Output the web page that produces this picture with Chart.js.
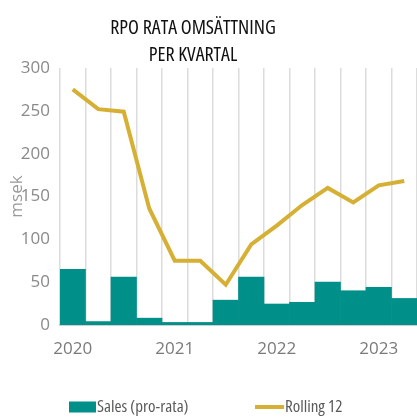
<!DOCTYPE html>
<html><head><meta charset="utf-8">
<script src="https://cdn.jsdelivr.net/npm/chart.js@4.4.1/dist/chart.umd.min.js"></script>
<style>html,body{margin:0;padding:0;background:#fff;overflow:hidden}</style>
</head><body>
<canvas id="c" width="417" height="417" style="display:block;width:417px;height:417px"></canvas>
<script>
const categories = ['2020 Q1','2020 Q2','2020 Q3','2020 Q4','2021 Q1','2021 Q2','2021 Q3','2021 Q4','2022 Q1','2022 Q2','2022 Q3','2022 Q4','2023 Q1','2023 Q2'];
const sales = [65, 4, 56, 8, 3, 3, 29, 56, 24.5, 26.5, 50, 40, 44, 31];
const rolling12 = [275, 252, 249, 136, 75, 75, 47, 94, 116, 140, 160, 143, 163, 168];
const yTicks = [0, 50, 100, 150, 200, 250, 300];
const titleLines = ['RPO RATA OMSÄTTNING', 'PER KVARTAL'];
const seriesNames = ['Sales (pro-rata)', 'Rolling 12'];
const yTitle = 'msek';

const FAMILY = "'Open Sans', sans-serif";
const TEAL = '#008F89';
const GOLD = '#D6B034';

const titlePlugin = {
  id: 'customTitle',
  afterDraw(chart) {
    const ctx = chart.ctx;
    ctx.save();
    ctx.font = "condensed 20px " + FAMILY;
    ctx.fillStyle = '#111';
    ctx.textAlign = 'center';
    ctx.textBaseline = 'alphabetic';
    ctx.fillText(titleLines[0], 193, 34);
    ctx.fillText(titleLines[1], 193, 61);
    ctx.restore();
  }
};

const legendPlugin = {
  id: 'customLegend',
  afterDraw(chart) {
    const ctx = chart.ctx;
    const ds = chart.data.datasets;
    const cy = 407;
    ctx.save();
    ctx.font = "condensed 17px " + FAMILY;
    ctx.textBaseline = 'middle';
    ctx.textAlign = 'left';
    ctx.fillStyle = ds[0].backgroundColor;
    ctx.fillRect(69, cy - 5.5, 27, 11);
    ctx.fillStyle = '#5a5a5a';
    ctx.fillText(ds[0].label, 97, cy);
    ctx.strokeStyle = ds[1].borderColor;
    ctx.lineWidth = 4;
    ctx.beginPath();
    ctx.moveTo(255, cy);
    ctx.lineTo(284, cy);
    ctx.stroke();
    ctx.fillText(ds[1].label, 285, cy);
    ctx.restore();
  }
};

new Chart(document.getElementById('c'), {
  data: {
    labels: categories,
    datasets: [
      { type: 'bar', label: seriesNames[0], data: sales, backgroundColor: TEAL, borderWidth: 0,
        barPercentage: 1, categoryPercentage: 1, order: 1 },
      { type: 'line', label: seriesNames[1], data: rolling12, borderColor: GOLD, backgroundColor: GOLD,
        borderWidth: 4, pointRadius: 0, tension: 0, order: 0, borderJoinStyle: 'miter' }
    ]
  },
  options: {
    responsive: false,
    animation: false,
    devicePixelRatio: 1,
    layout: { padding: { top: 68, right: 0, left: 0, bottom: 40 } },
    scales: {
      x: {
        offset: true,
        grid: { display: true, offset: true, color: '#dcdcdc', lineWidth: 1.5, drawTicks: false },
        border: { display: true, color: '#cfcfcf', width: 2 },
        ticks: {
          autoSkip: false, maxRotation: 0, minRotation: 0, padding: 14,
          color: '#7a7a7a', font: { family: FAMILY, style: 'condensed', size: 17 },
          callback: function(v, i) { const l = categories[i]; return l.endsWith('Q1') ? l.slice(0, 4) : ''; }
        },
        afterFit: s => { s.height = 52; s.paddingLeft = 0; s.paddingRight = 0; }
      },
      y: {
        min: 0, max: 300,
        afterBuildTicks: s => { s.ticks = yTicks.map(v => ({ value: v })); },
        grid: { display: false, drawTicks: false },
        border: { display: false },
        ticks: { padding: 10, color: '#8a8a8a', font: { family: FAMILY, style: 'condensed', size: 17 } },
        title: { display: true, text: yTitle, color: '#999', font: { family: FAMILY, style: 'condensed', size: 17 }, padding: { top: 7, bottom: 0 } },
        afterFit: s => { s.width = 60; }
      }
    },
    plugins: {
      legend: { display: false },
      tooltip: { enabled: false }
    }
  },
  plugins: [titlePlugin, legendPlugin]
});
</script>
</body></html>
